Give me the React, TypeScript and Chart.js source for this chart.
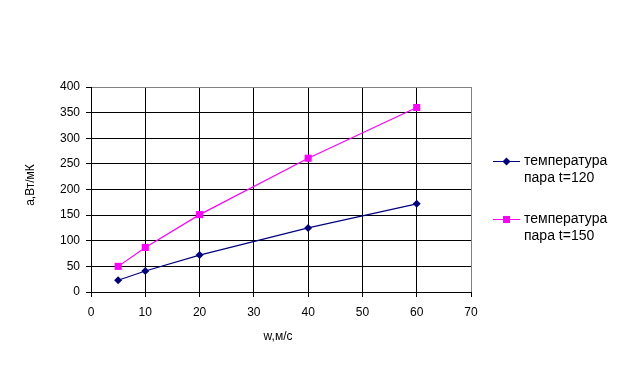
import React, { useEffect, useRef } from "react";
import { Chart, registerables } from "chart.js";

Chart.register(...registerables);

const xValues = [5, 10, 20, 40, 60];
const series120 = [23, 41, 72, 125, 172];
const series150 = [50, 87, 151, 261, 360];
const seriesLabels = ["температура\nпара t=120", "температура\nпара t=150"];
const xTitle = "w,м/с";
const yTitle = "a,Вт/мК";

const FONT = "Liberation Sans, Arial, sans-serif";

function drawMarker(ctx: CanvasRenderingContext2D, style: string, x: number, y: number, r: number, color: string) {
  ctx.save();
  ctx.fillStyle = color;
  ctx.beginPath();
  if (style === "rectRot") {
    ctx.moveTo(x, y - r);
    ctx.lineTo(x + r, y);
    ctx.lineTo(x, y + r);
    ctx.lineTo(x - r, y);
    ctx.closePath();
  } else {
    const s = r * Math.SQRT1_2;
    ctx.rect(x - s, y - s, 2 * s, 2 * s);
  }
  ctx.fill();
  ctx.restore();
}

const overlayPlugin = {
  id: "overlay",
  afterDraw(chart: any) {
    const ctx: CanvasRenderingContext2D = chart.ctx;
    const area = chart.chartArea;
    ctx.save();
    ctx.fillStyle = "#000";
    // axis titles
    ctx.font = `12px ${FONT}`;
    ctx.textAlign = "center";
    ctx.textBaseline = "middle";
    ctx.fillText(xTitle, (area.left + area.right) / 2 - 3, 337);
    ctx.save();
    ctx.translate(31, 185);
    ctx.rotate(-Math.PI / 2);
    ctx.fillText(yTitle, 0, 0);
    ctx.restore();
    // legend
    const offsets = [161, 219];
    ctx.font = `14px ${FONT}`;
    ctx.textAlign = "left";
    chart.data.datasets.forEach((ds: any, i: number) => {
      const y = offsets[i];
      const x0 = area.right + 22;
      const x1 = area.right + 49;
      ctx.strokeStyle = ds.borderColor;
      ctx.lineWidth = 1;
      ctx.beginPath();
      ctx.moveTo(x0, y + 0.5);
      ctx.lineTo(x1, y + 0.5);
      ctx.stroke();
      drawMarker(ctx, ds.pointStyle, (x0 + x1) / 2, y + 0.5, ds.pointRadius, ds.pointBackgroundColor);
      ctx.fillStyle = "#000";
      String(ds.label).split("\n").forEach((line: string, j: number) => {
        ctx.fillText(line, area.right + 53, y + j * 17);
      });
    });
    ctx.restore();
  },
};

export default function App() {
  const ref = useRef<HTMLCanvasElement>(null);
  useEffect(() => {
    if (!ref.current) return;
    const chart = new Chart(ref.current, {
      type: "line",
      data: {
        datasets: [
          {
            label: seriesLabels[0],
            data: xValues.map((x, i) => ({ x, y: series120[i] })),
            borderColor: "#000080",
            backgroundColor: "#000080",
            pointBackgroundColor: "#000080",
            pointBorderColor: "#000080",
            pointStyle: "rectRot",
            pointRadius: 4,
            borderWidth: 1.2,
            pointBorderWidth: 0,
          },
          {
            label: seriesLabels[1],
            data: xValues.map((x, i) => ({ x, y: series150[i] })),
            borderColor: "#FF00FF",
            backgroundColor: "#FF00FF",
            pointBackgroundColor: "#FF00FF",
            pointBorderColor: "#FF00FF",
            pointStyle: "rect",
            pointRadius: 5,
            borderWidth: 1.2,
            pointBorderWidth: 0,
          },
        ],
      },
      options: {
        animation: false,
        responsive: false,
        events: [],
        layout: { padding: { left: 0, right: 167, top: 87, bottom: 0 } },
        plugins: { legend: { display: false }, tooltip: { enabled: false } },
        scales: {
          x: {
            type: "linear",
            min: 0,
            max: 70,
            afterFit: (s: any) => { s.height = 87; },
            ticks: { stepSize: 10, color: "#000", font: { family: FONT, size: 12 }, padding: 8, maxRotation: 0 },
            grid: {
              color: (c: any) => (c.tick && c.tick.value === 70 ? "#808080" : "#000"),
              tickColor: "#000",
              tickLength: 5,
              lineWidth: 1,
            },
            border: { display: true, color: "#000" },
          },
          y: {
            type: "linear",
            min: 0,
            max: 400,
            afterFit: (s: any) => { s.width = 91; },
            ticks: { stepSize: 50, color: "#000", font: { family: FONT, size: 12 }, padding: 6 },
            grid: {
              color: (c: any) => (c.tick && c.tick.value === 400 ? "#808080" : "#000"),
              tickColor: "#000",
              tickLength: 5,
              lineWidth: 1,
            },
            border: { display: true, color: "#000" },
          },
        },
      },
      plugins: [overlayPlugin],
    } as any);
    return () => chart.destroy();
  }, []);
  return (
    <div style={{ position: "absolute", left: 0, top: 0, width: 638, height: 379, background: "#fff" }}>
      <canvas ref={ref} width={638} height={379} style={{ display: "block" }} />
    </div>
  );
}
